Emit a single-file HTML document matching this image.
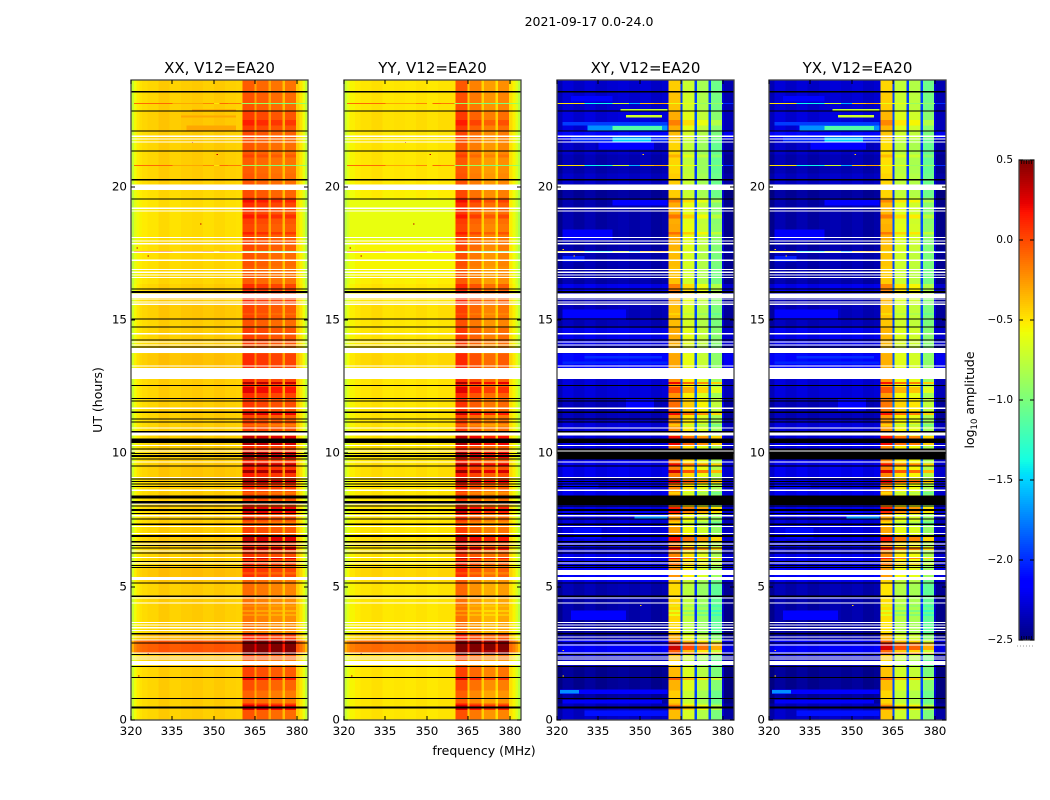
<!DOCTYPE html>
<html>
<head>
<meta charset="utf-8">
<title>2021-09-17 0.0-24.0</title>
<style>
html,body{margin:0;padding:0;background:#fff;}
svg{display:block;}
text{font-family:"DejaVu Sans","Liberation Sans",sans-serif;fill:#000;}
</style>
</head>
<body>
<svg id="chart" xmlns="http://www.w3.org/2000/svg" width="1050" height="800" viewBox="0 0 1050 800">
  <rect width="1050" height="800" fill="#fff"/>
  <text x="589" y="26" font-size="12.5" text-anchor="middle">2021-09-17 0.0-24.0</text>
  <text x="484" y="755" font-size="12.5" text-anchor="middle">frequency (MHz)</text>
  <text x="102" y="400" font-size="12.5" text-anchor="middle" transform="rotate(-90 102 400)">UT (hours)</text>
  <text x="974" y="400" font-size="12.5" text-anchor="middle" transform="rotate(-90 974 400)">log<tspan font-size="8.5" dy="3">10</tspan><tspan dy="-3"> amplitude</tspan></text>
  <g id="panels"></g>
  <g id="colorbar"></g>
</svg>
<script>
// Axis tick labels
const freqTicks = [320, 335, 350, 365, 380];
const hourTicks = [0, 5, 10, 15, 20];
const colorTicks = [0.5, 0.0, -0.5, -1.0, -1.5, -2.0, -2.5];

// Spectral profile: [upper edge MHz, log10 amplitude, RFI weight]
const xxProfile = [[321,-.72,0],[322,-.58,0],[323,-.52,0],[324,-.49,0],[326,-.47,0],[330,-.45,0],[334,-.41,0],[338,-.44,0],[342,-.42,0],[346,-.41,0],[350,-.43,0],[354,-.41,0],[358,-.43,0],[360.3,-.44,0],[364.6,-.06,1],[365.4,-.3,.5],[369.7,-.1,1],[370.7,-.32,.5],[374.8,-.14,1],[375.7,-.38,.5],[379.7,-.14,1],[381,-.42,0],[382,-.5,0],[383,-.6,0],[384,-.75,0]];
const yyProfile = [[321,-.72,0],[322,-.62,0],[324,-.55,0],[326,-.52,0],[330,-.5,0],[334,-.48,0],[338,-.51,0],[342,-.5,0],[346,-.51,0],[350,-.49,0],[354,-.51,0],[358,-.49,0],[360.3,-.49,0],[364.6,-.05,1],[365.4,-.42,.5],[369.7,-.18,1],[370.7,-.45,.5],[374.8,-.27,1],[375.7,-.48,.5],[379.7,-.22,1],[381,-.48,0],[382,-.55,0],[383,-.65,0],[384,-.78,0]];
const xyProfile = [[322,-.05,0],[326,.05,0],[330,0,0],[334,.05,0],[338,0,0],[342,.03,0],[346,.05,0],[350,.02,0],[354,.05,0],[358,0,0],[360.3,.03,0],[364.6,-.42,1],[365.4,-1.95,.6],[369.7,-.72,1],[370.7,-1.95,.6],[374.8,-.85,1],[375.7,-1.95,.6],[379.7,-1.05,1],[380.4,-2.3,.3],[384,-.05,0]];
const yxProfile = [[322,-.05,0],[326,.05,0],[330,0,0],[334,.05,0],[338,0,0],[342,.03,0],[346,.05,0],[350,.02,0],[354,.05,0],[358,0,0],[360.3,.03,0],[364.6,-.45,1],[365.4,-1.95,.6],[369.7,-.75,1],[370.7,-1.95,.6],[374.8,-.8,1],[375.7,-1.95,.6],[379.7,-1.05,1],[380.4,-2.3,.3],[384,-.05,0]];

// Time bands: upper edge (hours) and the per-band amplitude terms
const bandTop = [.38,.62,1.1,1.5,2,2.25,2.5,3,3.25,3.75, 4.6,5.1,5.3,5.7,5.95,6.3,6.55,6.85,7.25,7.7, 8.1,8.6,9.05,9.7,10.4,10.85,11.2,11.55,12.1,12.8, 13.2,13.75,14.1,14.7,15,15.6,16,16.35,17,17.6, 18,18.6,19.1,19.6,20.1,20.5,21.2,21.8,22.1,22.85, 23.55,24];
const parLow = [0,0,0,0,0,0,.05,.38,.08,0, 0,0,.03,.05,0,0,0,.02,0,0, 0,0,0,.02,0,0,0,0,0,0, 0,.04,0,0,0,.02,0,0,-.03,-.03, -.03,-.05,-.05,-.05,-.03,0,0,0,0,.02, 0,0];
const parRfi = [.03,.2,-.02,.05,.08,-.05,.03,.3,.1,-.08, -.08,-.05,-.05,.1,.05,.12,.12,.15,.08,.1, .1,.1,.15,.18,.15,.12,.1,.08,.12,.15, .15,.12,.03,.1,.03,.06,.15,.15,.03,.06, .1,.12,.15,.2,.08,.02,0,.02,.06,.08, .03,0];
const crossLow = [-2.35,-2.38,-2.45,-2.47,-2.47,-2.35,-2.35,-2.2,-2.42,-2.45, -2.42,-2.4,-2.25,-2.2,-2.28,-2.25,-2.3,-2.25,-2.28,-2.3, -2.25,-2.25,-2.28,-2.25,-2.28,-2.3,-2.3,-2.38,-2.38,-2.3, -2.25,-2.15,-2.3,-2.25,-2.38,-2.38,-2.4,-2.25,-2.42,-2.4, -2.42,-2.42,-2.42,-2.42,-2.45,-2.35,-2.4,-2.35,-2.15,-2.3, -2.32,-2.32];
const crossRfi = [.05,.1,0,.08,.06,-.03,.03,.35,.1,-.05, -.03,-.05,0,.18,.12,.22,.2,.25,.15,.15, .18,.15,.22,.25,.22,.2,.2,.2,.3,.18, .15,.12,.05,.1,.05,.05,.1,.25,.03,.05, .08,.12,.1,.1,0,0,-.03,-.03,.05,.1, .03,0];

// Strong and weak RFI integrations: [t0 h, t1 h, amplitude offset]
const rfiStripes = [[11.44,11.55,.28],[10.55,10.65,.28],[10.3,10.39,.28],[9.83,10.05,.28],[9.55,9.62,.25],[9.26,9.38,.3],[8.89,9,.3],[7.76,7.99,.25],[6.68,6.94,.3],[6.38,6.49,.28],[6.03,6.1,.25],[5.83,5.89,.2],[2.63,2.89,.25],[2.45,2.51,.3],[.38,.56,.12],[1.5,1.61,.2],[12.6,12.68,.3],[12.26,12.49,.15],[4.05,4.12,-.12],[3.9,3.97,-.1],[4.25,4.3,-.12],[15.2,15.25,-.1],[18.2,18.3,.12],[18.8,18.95,.12],[19.4,19.5,.1],[21.1,21.2,.08],[22.3,22.5,.1],[7.3,7.45,-.12],[8.45,8.55,-.1],[11,11.1,-.12],[5.45,5.55,-.1]];

// Cross-hand patches: [f0 MHz, f1 MHz, t0 h, t1 h, log10 amplitude]
const crossPatches = [[322,360,22.3,22.43,-1.95],[331,360,22.1,22.3,-1.7],[340,358,22.12,22.28,-1.15],[343,360,22.82,22.92,-.75],[345,358,22.6,22.68,-.7],[325,360,21.68,21.87,-2],[340,354,21.7,21.85,-1.5],[325,340,23.2,23.4,-2.12],[335,355,21.4,21.66,-2.15],[340,360,19.3,19.5,-2.15],[322,340,18,18.4,-2.18],[322,330,17.2,17.4,-2.05],[322,345,15,15.4,-2.12],[345,355,11.6,12.05,-2.12],[322,360,13.35,13.45,-2.02],[330,358,13.55,13.65,-2],[325,345,3.75,4.1,-2.15],[321,360,.98,1.14,-2.15],[321,328,1,1.12,-1.7],[330,360,.15,.36,-2.08],[322,358,.62,.75,-2.18],[350,360,9.9,10,-1.6],[348,360,7.55,7.65,-1.7],[326,336,6.8,7.2,-2.1],[322,335,8.7,8.85,-2.1]];
// Tinted patches in the XX and YY panels: [f0 MHz, f1 MHz, t0 h, t1 h, log10 amplitude]
const xxPatches = [[340,358,22.1,22.3,-.3],[342,358,22.82,22.9,-.25],[338,358,22.6,22.66,-.3]];
const yyPatches = [[324,360,17.95,19.5,-.6],[324,360,16.7,17.9,-.55]];

// Flagged data: hours of black lines, black blocks, white lines, white blocks
const blackLines = [23.56,22.83,22.08,21.33,20.26,19.53,16.17,15.03,14.73,14.25,13.98,12.55,12.06,11.96,11.54,11.29,11.18,10.81,10.17,10,9.79,9.52,9.03,8.94,8.85,8.75,8.03,7.75,7.54,7.34,6.54,6.45,6.27,5.94,5.8,5.72,5.13,4.64,2.88,2.46,2.01,1.6,.81];
const blackBlocks = [[16.02,16.09],[10.38,10.55],[9.87,9.93],[8.3,8.42],[8.12,8.22],[7.84,7.91],[6.86,6.94],[6.65,6.71],[3.21,3.26],[.43,.5]];
const crossBlackBlocks = [[9.78,9.86],[9.94,10.06],[10.1,10.18],[8.22,8.3],[8.06,8.12]];
const whiteLines = [21.89,21.79,21.68,19.19,19.08,18.09,17.97,17.86,17.54,17.24,16.9,16.79,16.68,16.6,15.78,15.68,15.59,14.18,14.07,13.28,11.69,10.95,10.3,10.09,9.68,9.1,8.1,7.66,7.25,7,6.6,6.34,6.1,5.88,4.58,4.38,3.66,3.56,3.46,3.36,3.11,3,2.52,2.36,2.29];
const whiteBlocks = [[19.88,20.09],[15.83,16],[14.46,14.52],[13.76,13.95],[12.78,13.2],[10.67,10.8],[8.58,8.65],[5.25,5.36],[2.06,2.22]];
const crossWhiteBlocks = [[5.44,5.62],[2.8,2.84]];

// Single noisy integrations: hours, then colored samples [f MHz, log10 amplitude]
const streakHours = [23.12,20.79,17.56,14.5];
const parStreak = [[320,-.8],[321,-.1],[335,-.3],[346,-.2],[350,-.5],[352,-.1],[355,-.15],[360,-.9],[370,-1],[380,-.9]];
const crossStreak = [[320,-.5],[330,-1.4],[340,-.7],[346,-1.6],[350,-.4],[355,-.3],[360,-.6],[370,-.9],[380,-2]];

// Isolated bad pixels: [f MHz, hours]
const parDots = [[322,17.7],[326,17.4],[326,17.25],[342,21.65],[351,21.2],[345,18.6],[322.5,1.65],[326,2.5]];
const crossDots = [[322,17.65],[326,17.4],[326,17.25],[351,21.2],[322,2.6],[322,1.65],[350,4.3]];

const panelNames = ['XX', 'YY', 'XY', 'YX'];
const panelLeft = [131, 344, 557, 769];

const axisTop = 80, axisBottom = 720, axisWidth = 177;
const svgNS = 'http://www.w3.org/2000/svg';
function fx(left, f) { return left + (f - 320) * axisWidth / 64; }
function ty(h) { return axisBottom - h * (axisBottom - axisTop) / 24; }
function lerp(pts, x) {
  for (let i = 1; i < pts.length; i++) {
    if (x <= pts[i][0]) return pts[i-1][1] + (pts[i][1] - pts[i-1][1]) * (x - pts[i-1][0]) / (pts[i][0] - pts[i-1][0]);
  }
  return pts[pts.length-1][1];
}
const jetR = [[0,0],[.35,0],[.66,1],[.89,1],[1,.5]];
const jetG = [[0,0],[.125,0],[.375,1],[.64,1],[.91,0],[1,0]];
const jetB = [[0,.5],[.11,1],[.34,1],[.65,0],[1,0]];
function color(v) {
  const n = Math.max(0, Math.min(1, (v + 2.5) / 3));
  const c = p => Math.round(lerp(p, n) * 255);
  return 'rgb(' + c(jetR) + ',' + c(jetG) + ',' + c(jetB) + ')';
}
function node(parent, tag, attrs) {
  const e = document.createElementNS(svgNS, tag);
  for (const k in attrs) e.setAttribute(k, attrs[k]);
  parent.appendChild(e);
  return e;
}
function box(parent, left, f0, f1, t0, t1, fill, minH) {
  const y0 = ty(t1);
  let h = ty(t0) - y0;
  if (minH && h < minH) h = minH;
  return node(parent, 'rect', {x: fx(left, f0), y: y0, width: (f1 - f0) * axisWidth / 64, height: h, fill: fill});
}

const root = document.getElementById('panels');
panelNames.forEach(function (name, p) {
  const left = panelLeft[p];
  const cross = p >= 2;
  const profile = [xxProfile, yyProfile, xyProfile, yxProfile][p];
  const panel = node(root, 'g', {});
  
  
  const cells = node(panel, 'g', {'shape-rendering': 'crispEdges'});
  
  

  function cellValue(seg, b) {
    const w = seg[2];
    if (cross) return w > 0 ? seg[1] + w * crossRfi[b] : crossLow[b] + seg[1];
    return seg[1] + parLow[b] + w * parRfi[b];
  }

  let t0 = 0;
  bandTop.forEach(function (t1, b) {
    let f0 = 320;
    profile.forEach(function (seg) {
      const cell = box(cells, left, f0, seg[0], t0, t1, color(cellValue(seg, b)));
      
      
      f0 = seg[0];
    });
    t0 = t1;
  });

  rfiStripes.forEach(function (s) {
    const b = bandTop.findIndex(function (t) { return t >= s[1]; });
    let f0 = 320;
    profile.forEach(function (seg) {
      if (seg[2] === 1) {
        const v = cellValue(seg, b) + s[2] * (cross ? 1.5 : 1);
        const stripe = box(cells, left, f0, seg[0], s[0], s[1], color(v));
        
        
      }
      f0 = seg[0];
    });
  });

  (cross ? crossPatches : (p === 0 ? xxPatches : yyPatches)).forEach(function (q) {
    const patch = box(cells, left, q[0], q[1], q[2], q[3], color(q[4]));
    
    
  });

  const samples = cross ? crossStreak : parStreak;
  streakHours.forEach(function (h) {
    samples.forEach(function (s, i) {
      const f1 = i + 1 < samples.length ? samples[i+1][0] : 384;
      const mark = box(cells, left, s[0], f1, h - .02, h + .02, color(s[1]), 1);
      
      
    });
  });

  (cross ? crossDots : parDots).forEach(function (d) {
    const dot = box(cells, left, d[0], d[0] + .5, d[1] - .02, d[1] + .02, cross ? '#ffd000' : '#c00000', 1);
    
    
  });

  const whites = whiteBlocks.concat(cross ? crossWhiteBlocks : []);
  whites.forEach(function (w) {
    const block = box(cells, left, 320, 384, w[0], w[1], '#fff');
    
    
  });
  whiteLines.forEach(function (h) {
    const line = box(cells, left, 320, 384, h - .02, h + .02, '#fff', 1);
    
    
  });
  const blacks = blackBlocks.concat(cross ? crossBlackBlocks : []);
  blacks.forEach(function (w) {
    const block = box(cells, left, 320, 384, w[0], w[1], '#000');
    
    
  });
  blackLines.forEach(function (h) {
    const line = box(cells, left, 320, 384, h - .02, h + .02, '#000', 1);
    
    
  });

  const title = node(panel, 'text', {x: left + axisWidth / 2, y: 73, 'font-size': 15, 'text-anchor': 'middle'});
  title.textContent = name + ', V12=EA20';
  
  

  const frame = node(panel, 'rect', {x: left, y: axisTop, width: axisWidth, height: axisBottom - axisTop, fill: 'none', stroke: '#444', 'stroke-width': 1.3});
  
  

  freqTicks.forEach(function (f) {
    const x = Math.round(fx(left, f));
    const tick = node(panel, 'path', {d: 'M' + x + ' ' + axisBottom + 'v-4M' + x + ' ' + axisTop + 'v4', stroke: '#000', 'shape-rendering': 'crispEdges', fill: 'none'});
    
    
    const label = node(panel, 'text', {x: x, y: 735, 'font-size': 11.9, 'text-anchor': 'middle'});
    label.textContent = f;
    
    
  });
  hourTicks.forEach(function (h) {
    const y = Math.round(ty(h));
    const tick = node(panel, 'path', {d: 'M' + left + ' ' + y + 'h4M' + (left + axisWidth) + ' ' + y + 'h-4', stroke: '#000', 'shape-rendering': 'crispEdges', fill: 'none'});
    
    
    const label = node(panel, 'text', {x: left - 4, y: y + 3.5, 'font-size': 11.9, 'text-anchor': 'end'});
    label.textContent = h;
    
    
  });
});

// Colorbar
const cbar = document.getElementById('colorbar');
const cbTop = 160, cbBottom = 640, cbLeft = 1019, cbWidth = 15;
function cy(v) { return cbBottom - (v + 2.5) * (cbBottom - cbTop) / 3; }
const ramp = node(cbar, 'g', {'shape-rendering': 'crispEdges'});


for (let y = cbTop; y < cbBottom; y += 2) {
  const v = -2.5 + (cbBottom - y - 1) * 3 / (cbBottom - cbTop);
  node(ramp, 'rect', {x: cbLeft, y: y, width: cbWidth, height: 2, fill: color(v)});
}
const cbFrame = node(cbar, 'rect', {x: cbLeft, y: cbTop, width: cbWidth, height: cbBottom - cbTop, fill: 'none', stroke: '#444', 'stroke-width': 1.3});


colorTicks.forEach(function (v) {
  const y = Math.round(cy(v));
  const tick = node(cbar, 'path', {d: 'M' + cbLeft + ' ' + y + 'h4M' + (cbLeft + cbWidth) + ' ' + y + 'h-4', stroke: '#000', 'shape-rendering': 'crispEdges', fill: 'none'});
  
  
  const label = node(cbar, 'text', {x: 1013, y: y + 3, 'font-size': 10.5, 'text-anchor': 'end'});
  label.textContent = v.toFixed(1).replace('-', '\u2212');
  
  
});
for (let i = 1; i < 6; i++) {
  const x = cbLeft + i * 2.5;
  const minor = node(cbar, 'path', {d: 'M' + x + ' ' + cbTop + 'v4M' + x + ' ' + cbBottom + 'v-4', stroke: '#000', 'stroke-width': .7, fill: 'none'});
  
  
}
const cbDots = node(cbar, 'line', {x1: 1017, y1: 646, x2: 1034, y2: 646, stroke: '#999', 'stroke-width': 1, 'stroke-dasharray': '1 2'});


</script>
</body>
</html>
